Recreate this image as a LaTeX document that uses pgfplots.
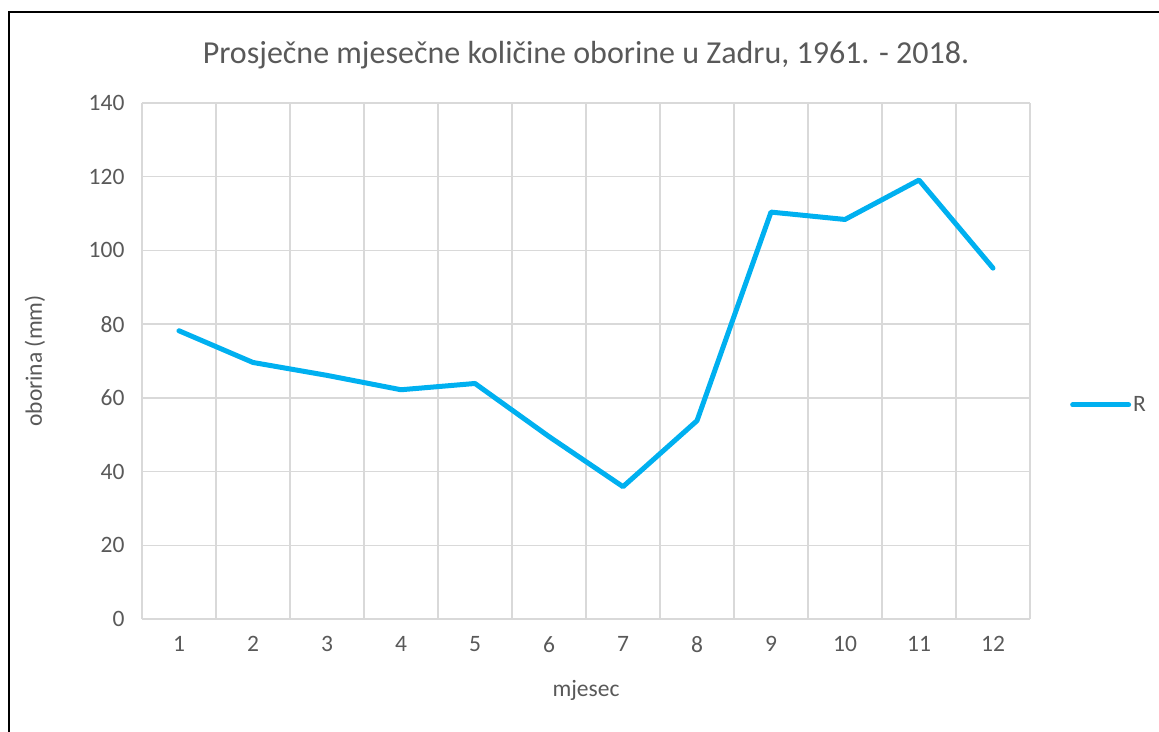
\documentclass[border=0pt]{standalone}
\usepackage{pgfplots}
\pgfplotsset{compat=1.18}
\usepackage{fontspec}
\setmainfont{Carlito}
\definecolor{txt}{HTML}{595959}
\definecolor{grd}{HTML}{D9D9D9}
\definecolor{ln}{HTML}{00B0F0}
\begin{document}
\begin{tikzpicture}
\begin{axis}[
  scale only axis,
  width=888pt, height=516pt,
  xmin=0.5, xmax=12.5, ymin=0, ymax=140,
  xtick={1,...,12},
  ytick={0,20,...,140},
  minor xtick={0.5,1.5,...,12.5},
  ymajorgrids, xminorgrids,
  grid style={grd, line width=1.5pt},
  minor grid style={grd, line width=1.5pt},
  major tick length=0pt, minor tick length=0pt,
  axis line style={draw=none},
  tick label style={font=\fontsize{23.5}{28}\selectfont, text=txt},
  /pgf/number format/assume math mode=true,
  yticklabel style={xshift=-14pt},
  xticklabel style={yshift=-14pt},
  xlabel={mjesec}, ylabel={oborina (mm)},
  label style={font=\fontsize{23.5}{28}\selectfont, text=txt},
  xlabel style={at={(axis description cs:0.5,-0.1376)}, anchor=center},
  ylabel style={at={(axis description cs:-0.1205,0.5)}, anchor=center},
  legend style={at={(axis description cs:1.045,0.415)}, anchor=west, draw=none, fill=none,
    font=\fontsize{23.5}{28}\selectfont, text=txt, inner sep=0pt},
  legend image code/.code={\draw[#1, line cap=round] (0pt,0pt) -- (56pt,0pt);},
  clip=false,
]
\addplot[ln, line width=5pt, line join=round, line cap=round] coordinates {
(1,78.2) (2,69.6) (3,66.1) (4,62.2) (5,63.9) (6,49.5) (7,35.9) (8,53.8) (9,110.4) (10,108.4) (11,119.1) (12,95.2)};
\addlegendentry{R}
\node[font=\fontsize{32}{38}\selectfont, text=txt] at (axis description cs:0.5,0) [yshift=564pt] {Prosječne mjesečne količine oborine u Zadru, 1961. - 2018.};
\end{axis}
\draw[black, line width=1.5pt] (-133pt,-120pt) -- (-133pt,607pt) -- (1030pt,607pt);
\pgfresetboundingbox
\path (-142pt,-112pt) rectangle (1017pt,619pt);
\end{tikzpicture}
\end{document}
